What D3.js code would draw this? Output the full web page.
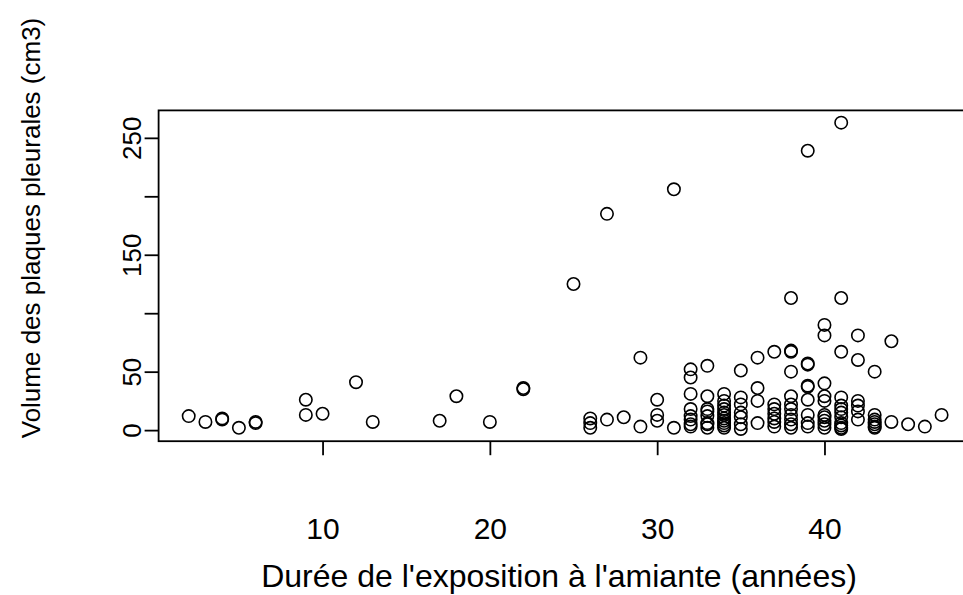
<!DOCTYPE html>
<html>
<head>
  <meta charset="utf-8">
  <script src="https://d3js.org/d3.v7.min.js"></script>
  <title>Volume des plaques pleurales</title>
  <style>
    body { margin: 0; background: white; }
    text { font-family: "Liberation Sans", Arial, sans-serif; fill: black; }
  </style>
</head>
<body>
  <div class='chart'></div>
  <script type="text/javascript">
    // Durée d'exposition (années) et volume des plaques (cm3)
    var duree = [
      2, 3, 4, 4, 5, 6, 6, 9, 9, 10, 12, 13, 17, 18, 20, 22, 22, 25,
      26, 26, 26, 27, 27, 28, 29, 29, 30, 30, 30, 31, 31,
      32, 32, 32, 32, 32, 32, 32, 32,
      33, 33, 33, 33, 33, 33, 33, 33,
      34, 34, 34, 34, 34, 34, 34, 34, 34, 34, 34,
      35, 35, 35, 35, 35, 35, 35,
      36, 36, 36, 36,
      37, 37, 37, 37, 37, 37, 37,
      38, 38, 38, 38, 38, 38, 38, 38, 38, 38, 38,
      39, 39, 39, 39, 39, 39, 39, 39, 39,
      40, 40, 40, 40, 40, 40, 40, 40, 40, 40,
      41, 41, 41, 41, 41, 41, 41, 41, 41, 41, 41, 41,
      42, 42, 42, 42, 42, 42,
      43, 43, 43, 43, 43, 43, 43,
      44, 44, 45, 46, 47
    ];
    var volume = [
      12, 7, 9, 10, 2, 6, 7, 26, 13, 14, 41, 7, 8, 29, 7, 35, 36, 125,
      10, 6, 2, 185, 9, 11, 62, 3, 26, 13, 8, 206, 2,
      52, 45, 31, 18, 12, 9, 5, 3,
      55, 29, 18, 16, 12, 6, 5, 2,
      31, 25, 21, 18, 15, 13, 10, 8, 6, 4, 2,
      51, 28, 22, 15, 11, 5, 1,
      62, 36, 25, 6,
      67, 22, 18, 14, 10, 7, 3,
      113, 67, 68, 50, 29, 22, 18, 13, 9, 5, 2,
      239, 56, 57, 37, 38, 26, 13, 6, 3,
      90, 81, 40, 29, 25, 13, 11, 8, 5, 2,
      263, 113, 67, 28, 21, 18, 15, 11, 6, 4, 2, 1,
      81, 60, 25, 21, 16, 9,
      50, 13, 9, 7, 5, 3, 2,
      76, 7, 5, 3, 13
    ];
    var xTicks = [10, 20, 30, 40];
    var yTicks = [0, 50, 100, 150, 200, 250];
    var yTickLabels = ['0', '50', '', '150', '', '250'];
    var xTitle = "Durée de l'exposition à l'amiante (années)";
    var yTitle = 'Volume des plaques pleurales (cm3)';

    var width = 963, height = 595;
    var margin = {top: 110.4, left: 158.6, right: -8.7, bottom: 153.8};

    // comme R : étendue des données + 4 % de chaque côté
    function pad(ext) {
      var d = (ext[1] - ext[0]) * 0.04;
      return [ext[0] - d, ext[1] + d];
    }

    var x = d3.scaleLinear()
      .domain(pad(d3.extent(duree)))
      .range([margin.left, width - margin.right]);

    var y = d3.scaleLinear()
      .domain(pad(d3.extent(volume)))
      .range([height - margin.bottom, margin.top]);

    var svg = d3.select('.chart')
      .append('svg')
      .attr('width', width)
      .attr('height', height);

    // cadre du graphique
    svg.append('rect')
      .attr('x', x.range()[0])
      .attr('y', y.range()[1])
      .attr('width', x.range()[1] - x.range()[0])
      .attr('height', y.range()[0] - y.range()[1])
      .attr('fill', 'none')
      .attr('stroke', 'black')
      .attr('stroke-width', 1.8);

    var xAxis = svg.append('g')
      .attr('transform', 'translate(0,' + y.range()[0] + ')')
      .call(d3.axisBottom(x).tickValues(xTicks).tickSize(14).tickPadding(84).tickSizeOuter(0));

    var yAxis = svg.append('g')
      .attr('transform', 'translate(' + x.range()[0] + ',0)')
      .call(d3.axisLeft(y).tickValues(yTicks)
        .tickFormat(function(d, i) { return yTickLabels[i]; })
        .tickSize(14).tickSizeOuter(0));

    [xAxis, yAxis].forEach(function(g) {
      g.select('.domain').remove();
      g.selectAll('line').attr('stroke', 'black').attr('stroke-width', 1.8);
      g.selectAll('text').attr('fill', 'black').style('font-size', '26px');
    });

    xAxis.selectAll('text').attr('dy', null).style('font-size', '30px');

    // les étiquettes de l'axe y sont verticales, comme dans R
    yAxis.selectAll('text')
      .attr('x', null).attr('dy', null)
      .attr('text-anchor', 'middle')
      .attr('transform', 'translate(-17.6,0) rotate(-90)');

    svg.append('text')
      .attr('x', 559)
      .attr('y', 587)
      .attr('text-anchor', 'middle')
      .style('font-size', '32px')
      .text(xTitle);

    svg.append('text')
      .attr('transform', 'translate(40,228) rotate(-90)')
      .attr('text-anchor', 'middle')
      .style('font-size', '26px')
      .text(yTitle);

    svg.append('g')
      .selectAll('circle')
      .data(duree)
      .enter()
      .append('circle')
      .attr('cx', function(d) { return x(d); })
      .attr('cy', function(d, i) { return y(volume[i]); })
      .attr('r', 6.2)
      .attr('fill', 'none')
      .attr('stroke', 'black')
      .attr('stroke-width', 1.6);
  </script>
</body>
</html>
